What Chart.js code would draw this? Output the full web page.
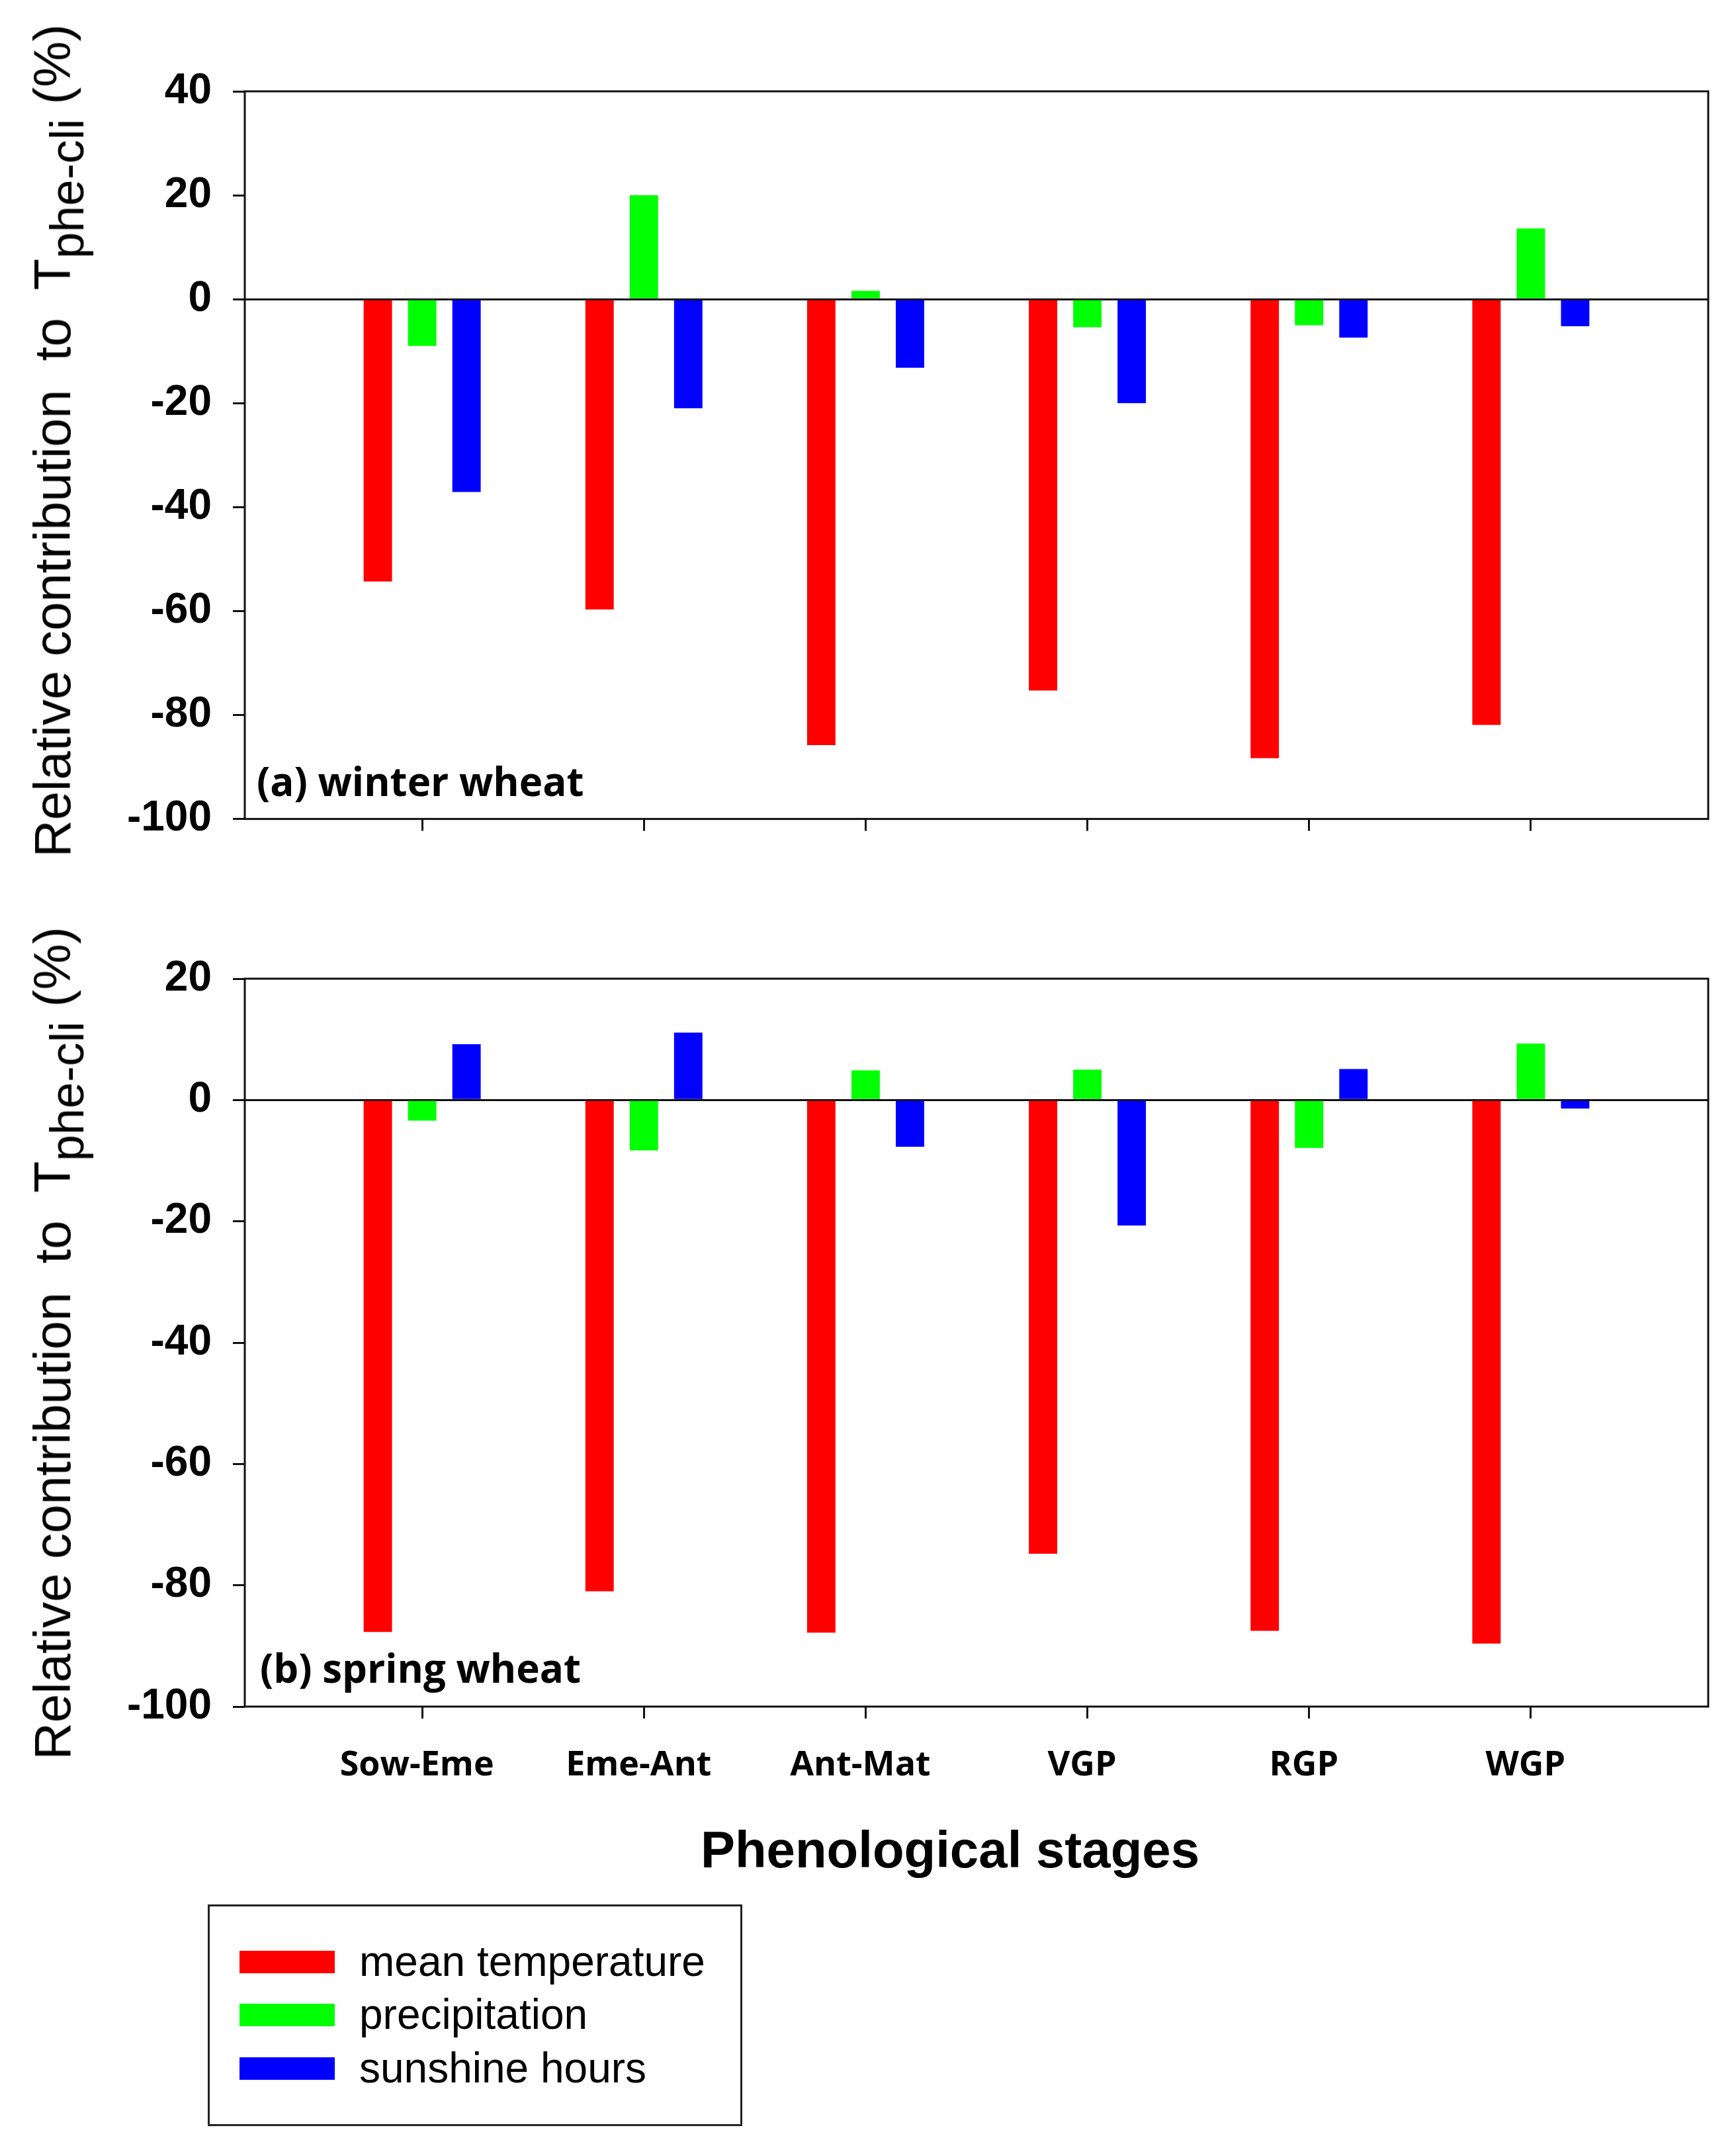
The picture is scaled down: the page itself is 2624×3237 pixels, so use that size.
<!DOCTYPE html>
<html>
<head>
<meta charset="utf-8">
<title>Relative contribution to Tphe-cli</title>
<script src="https://cdn.jsdelivr.net/npm/chart.js@4.4.1/dist/chart.umd.min.js"></script>
<style>
  html, body { margin: 0; padding: 0; background: #fff; }
  #page { position: relative; width: 2624px; height: 3237px; overflow: hidden; background: #fff; }
  canvas { position: absolute; left: 0; }
  .ytitle {
    position: absolute; white-space: pre; line-height: 1;
    font-family: "Liberation Sans", Arial, sans-serif; font-size: 78px; color: #000;
    transform: translate(-50%, -50%) rotate(-90deg);
  }
  .ytitle sub { font-size: 0.92em; vertical-align: -0.28em; }
  .panel-label {
    position: absolute; white-space: pre; line-height: 1;
    font-family: "Open Sans", sans-serif; font-weight: 700; font-size: 60px; color: #000;
    transform: translateY(-50%);
  }
  #xtitle {
    position: absolute; left: 1436px; top: 2795px; white-space: pre; line-height: 1;
    font-family: "Liberation Sans", Arial, sans-serif; font-weight: 700; font-size: 78px;
    transform: translate(-50%, -50%);
  }
  #legend {
    position: absolute; left: 314px; top: 2878px; width: 802px; height: 329px;
    border: 3px solid #222;
  }
  .legend-row { position: absolute; left: 0; height: 0; }
  .legend-row span.swatch { position: absolute; left: 45px; top: -17px; width: 144px; height: 34px; }
  .legend-row span.txt {
    position: absolute; left: 226px; top: 0; transform: translateY(-52%); white-space: pre; line-height: 1;
    font-family: "Liberation Sans", Arial, sans-serif; font-size: 64px; color: #000;
  }
</style>
</head>
<body>
<div id="page">
  <canvas id="winterChart" width="2624" height="1308" style="top:0px"></canvas>
  <canvas id="springChart" width="2624" height="1340" style="top:1380px"></canvas>

  <div class="ytitle" style="left:89px; top:666px">Relative contribution  to  T<sub>phe-cli</sub> (%)</div>
  <div class="ytitle" style="left:89px; top:2030px">Relative contribution  to  T<sub>phe-cli</sub> (%)</div>

  <div class="panel-label" style="left:388px; top:1180px">(a) winter wheat</div>
  <div class="panel-label" style="left:393px; top:2520px">(b) spring wheat</div>

  <div id="xtitle">Phenological stages</div>
  <div id="legend"></div>
</div>

<script>
// stages on the x axis
var stages = ['Sow-Eme', 'Eme-Ant', 'Ant-Mat', 'VGP', 'RGP', 'WGP'];
var seriesNames = ['mean temperature', 'precipitation', 'sunshine hours'];
var seriesColors = ['#ff0000', '#00ff00', '#0000ff'];

// (a) winter wheat, %
var winterTemp = [-54.3, -59.7, -85.8, -75.3, -88.3, -81.9];
var winterPrecip = [-9.0, 20.0, 1.6, -5.4, -5.0, 13.6];
var winterSun = [-37.1, -21.0, -13.2, -20.0, -7.4, -5.2];
var winterYTicks = [-100, -80, -60, -40, -20, 0, 20, 40];

// (b) spring wheat, %
var springTemp = [-87.7, -81.0, -87.8, -74.8, -87.5, -89.6];
var springPrecip = [-3.4, -8.3, 4.9, 5.0, -7.9, 9.3];
var springSun = [9.2, 11.1, -7.7, -20.7, 5.1, -1.4];
var springYTicks = [-100, -80, -60, -40, -20, 0, 20];

// box around the plot area
var framePlugin = {
    id: 'frame',
    afterDraw: function (chart) {
        var a = chart.chartArea;
        var ctx = chart.ctx;
        ctx.save();
        ctx.strokeStyle = '#111';
        ctx.lineWidth = 3;
        ctx.strokeRect(a.left, a.top, a.right - a.left, a.bottom - a.top);
        ctx.restore();
    }
};

function buildPanel(canvasId, seriesValues, yTicks, showLabels, padTop, xHeight) {
    var datasets = seriesValues.map(function (vals, i) {
        return {
            label: seriesNames[i],
            data: vals.map(function (v, j) { return { x: j + 1, y: v }; }),
            backgroundColor: seriesColors[i],
            borderWidth: 0,
            categoryPercentage: 0.6,
            barPercentage: 0.64
        };
    });

    return new Chart(document.getElementById(canvasId), {
        type: 'bar',
        data: { datasets: datasets },
        options: {
            responsive: false,
            animation: false,
            devicePixelRatio: 1,
            layout: { padding: { top: padTop, right: 42, left: 0, bottom: 0 } },
            plugins: {
                legend: { display: false },
                tooltip: { enabled: false }
            },
            scales: {
                x: {
                    type: 'linear',
                    min: 0.2,
                    max: 6.8,
                    bounds: 'data',
                    offset: false,
                    afterBuildTicks: function (scale) {
                        scale.ticks = stages.map(function (s, j) { return { value: j + 1 }; });
                    },
                    afterFit: function (scale) { scale.height = xHeight; },
                    grid: {
                        offset: false,
                        drawOnChartArea: false,
                        drawTicks: true,
                        tickLength: 18,
                        tickColor: '#111',
                        tickWidth: 3
                    },
                    border: { display: false },
                    ticks: {
                        autoSkip: false,
                        maxRotation: 0,
                        minRotation: 0,
                        padding: 40,
                        labelOffset: -8,
                        color: '#000',
                        font: { family: 'Open Sans', size: 52, weight: 'bold' },
                        callback: function (value) {
                            return showLabels ? stages[value - 1] : '';
                        }
                    }
                },
                y: {
                    min: yTicks[0],
                    max: yTicks[yTicks.length - 1],
                    z: 1,
                    afterBuildTicks: function (scale) {
                        scale.ticks = yTicks.map(function (v) { return { value: v }; });
                    },
                    afterFit: function (scale) { scale.width = 370; },
                    grid: {
                        color: function (c) {
                            return (c.tick && c.tick.value === 0) ? '#111' : 'rgba(0,0,0,0)';
                        },
                        lineWidth: 3,
                        drawTicks: true,
                        tickLength: 18,
                        tickColor: '#111',
                        tickWidth: 3
                    },
                    border: { display: false },
                    ticks: {
                        padding: 32,
                        color: '#000',
                        font: { family: 'Liberation Sans', size: 64, weight: 'bold' }
                    }
                }
            }
        },
        plugins: [framePlugin]
    });
}

buildPanel('winterChart', [winterTemp, winterPrecip, winterSun], winterYTicks, false, 138, 60);
buildPanel('springChart', [springTemp, springPrecip, springSun], springYTicks, true, 99, 141);

// legend box
var legendEl = document.getElementById('legend');
var rowTops = [84, 164, 245];
seriesNames.forEach(function (name, i) {
    var row = document.createElement('div');
    row.className = 'legend-row';
    row.style.top = rowTops[i] + 'px';
    var sw = document.createElement('span');
    sw.className = 'swatch';
    sw.style.background = seriesColors[i];
    var tx = document.createElement('span');
    tx.className = 'txt';
    tx.textContent = name;
    row.appendChild(sw);
    row.appendChild(tx);
    legendEl.appendChild(row);
});
</script>
</body>
</html>
